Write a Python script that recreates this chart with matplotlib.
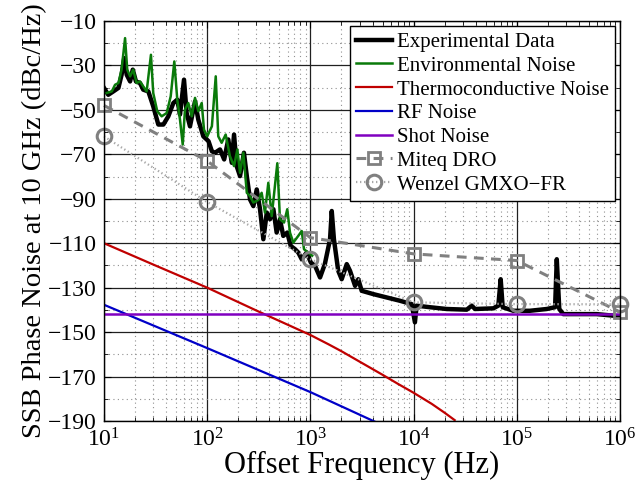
import matplotlib
matplotlib.use("Agg")
import matplotlib.pyplot as plt
from matplotlib.ticker import LogLocator, FixedLocator, NullFormatter, MultipleLocator

plt.rcParams['font.family'] = ['Liberation Serif', 'DejaVu Serif']
plt.rcParams['mathtext.fontset'] = 'custom'
plt.rcParams['mathtext.rm'] = 'Liberation Serif'
plt.rcParams['mathtext.it'] = 'Liberation Serif:italic'
plt.rcParams['mathtext.bf'] = 'Liberation Serif:bold'

# ---------------- data ----------------
exp_freq = [10.0, 11.0, 12.3, 13.8, 14.8, 15.7, 16.6, 17.9, 19.0, 20.4, 22.3, 24.0, 26.9, 30.0,
            33.6, 37.6, 42.0, 47.0, 51.3, 54.5, 59.6, 63.2, 68.1, 76.2, 82.0, 91.7, 103, 111,
            119, 133, 146, 160, 173, 182, 193, 208, 227, 242, 260, 280, 302, 325, 350, 378,
            406, 438, 471, 507, 546, 597, 644, 710, 763, 824, 921, 1010, 1110, 1240, 1380,
            1550, 1610, 1690, 1860, 2010, 2250, 2420, 2710, 2910, 3140, 4070, 5480, 7380,
            9590, 10300, 10700, 14400, 20900, 32700, 36600, 39400, 59200, 66200, 69800,
            73000, 92500, 134000, 195000, 235000, 244000, 258000, 282000, 410000, 594000,
            861000, 1000000]
exp_db = [-40.1, -43.2, -41.7, -40.1, -34.2, -26.7, -34.2, -37.2, -31.9, -37.2, -37.9, -40.9,
          -41.7, -48.4, -56.6, -56.6, -52.9, -46.9, -45.4, -52.1, -36.4, -51.4, -57.4, -46.2,
          -54.4, -61.9, -64.1, -68.6, -69.3, -67.8, -72.3, -63.3, -73.8, -61.1, -75.3, -79.8,
          -69.3, -79.8, -90.3, -93.3, -85.8, -94.7, -108.2, -96.2, -99.2, -94.7, -105.2,
          -99.2, -106.7, -105.2, -111.2, -112.7, -114.2, -117.2, -114.2, -118.7, -120.2,
          -125.4, -119.4, -108.2, -95.5, -108.2, -122.4, -126.2, -119.4, -122.4, -129.2,
          -126.2, -131.4, -132.9, -134.4, -135.9, -137.4, -145.6, -138.1, -138.8, -139.6,
          -139.9, -138.1, -139.6, -139.3, -138.1, -126.2, -138.8, -140.4, -140.4, -139.6,
          -138.8, -117.2, -139.6, -141.9, -141.9, -141.9, -142.6, -143.3]

env_freq = [10.6, 11.9, 12.8, 13.8, 14.8, 16.0, 16.8, 17.9, 19.2, 20.7, 22.3, 24.0, 25.9, 28.5,
            30.0, 32.8, 36.2, 40.5, 44.3, 48.0, 51.3, 54.5, 57.9, 60.9, 65.6, 70.8, 76.2, 82.0,
            88.5, 93.1, 100, 111, 121, 128, 138, 151, 166, 182, 196, 208, 224, 242, 260, 280,
            313, 337, 363, 391, 422, 478, 507, 555, 597, 634, 683, 763, 824, 867, 1040]
env_db = [-42.4, -41.7, -38.7, -37.9, -31.9, -17.7, -31.9, -34.9, -31.9, -37.9, -37.2, -39.4,
          -41.7, -25.2, -42.4, -50.6, -52.9, -51.4, -43.9, -28.2, -45.4, -54.4, -65.6, -49.9,
          -46.9, -52.9, -44.6, -50.6, -46.9, -58.9, -61.9, -57.4, -34.9, -61.9, -64.8, -61.1,
          -70.8, -75.3, -67.8, -78.3, -69.3, -87.3, -88.8, -91.7, -90.5, -87.3, -96.2, -82.8,
          -97.8, -74.0, -99.2, -100.7, -94.7, -105.2, -109.7, -106.7, -104.5, -112.7, -115.6]

thermo_freq = [10, 30, 100, 300, 1000, 1500, 2000, 3000, 5000, 7000, 10000, 15000, 20000, 25000]
thermo_db = [-110.0, -119.6, -130.0, -140.3, -151.3, -155.5, -158.6, -163.3, -169.2, -173.2,
             -177.3, -182.3, -186.3, -189.6]

rf_freq = [10, 100, 1000, 4300]
rf_db = [-137.7, -157.2, -177.0, -190.5]

shot_freq = [10, 1000000]
shot_db = [-141.7, -141.7]

miteq_freq = [10, 100, 1000, 10000, 100000, 1000000]
miteq_db = [-48.0, -73.0, -107.5, -114.8, -117.8, -141.0]

wenzel_freq = [10, 100, 1000, 10000, 100000, 1000000]
wenzel_db = [-61.9, -91.5, -117.2, -136.6, -137.4, -137.5]

labels = ['Experimental Data', 'Environmental Noise', 'Thermoconductive Noise',
          'RF Noise', 'Shot Noise', 'Miteq DRO', 'Wenzel GMXO\u2212FR']
y_ticks = [-190, -170, -150, -130, -110, -90, -70, -50, -30, -10]

# ---------------- figure ----------------
fig = plt.figure(figsize=(6.41, 4.96), dpi=100)
ax = fig.add_axes([104/641, 1-421/496, (620-104)/641, (421-21)/496])

ax.plot(exp_freq, exp_db, color='black', lw=3.2, label=labels[0], solid_joinstyle='round')
ax.plot(env_freq, env_db, color='#0a7a0a', lw=1.8, label=labels[1])
ax.plot(thermo_freq, thermo_db, color='#c00000', lw=1.6, label=labels[2])
ax.plot(rf_freq, rf_db, color='#0000c8', lw=1.6, label=labels[3])
ax.plot(shot_freq, shot_db, color='#8000c0', lw=1.8, label=labels[4])
ax.plot(miteq_freq, miteq_db, color='#808080', lw=2.2, ls=(0, (3.2, 2.4)), marker='s',
        ms=8, mfc='none', mec='#808080', mew=2.0, label=labels[5], clip_on=False)
ax.plot(wenzel_freq, wenzel_db, color='#a8a8a8', lw=1.6, ls=(0, (0.6, 1.2)), marker='o',
        ms=10.5, mfc='none', mec='#808080', mew=2.2, label=labels[6], clip_on=False)

ax.set_xscale('log')
ax.set_xlim(10, 1e6)
ax.set_ylim(-190, -10)
ax.yaxis.set_major_locator(FixedLocator(y_ticks))
ax.yaxis.set_minor_locator(MultipleLocator(10))
ax.xaxis.set_major_locator(LogLocator(base=10, numticks=10))
ax.xaxis.set_minor_locator(LogLocator(base=10, subs=range(2, 10), numticks=20))
ax.xaxis.set_minor_formatter(NullFormatter())

ax.grid(which='major', color='#202020', lw=0.9, ls='-')
ax.grid(which='minor', color='#909090', lw=0.8, ls=(0, (1, 3)))
ax.set_axisbelow(True)

ax.tick_params(which='both', direction='in', top=True, right=True, labelsize=17, pad=5)
ax.tick_params(which='major', length=5, width=0.8)
ax.tick_params(which='minor', length=3, width=0.6)
for s in ax.spines.values():
    s.set_linewidth(1.0)

ax.set_xlabel('Offset Frequency (Hz)', fontsize=22, labelpad=0)
ax.set_ylabel('SSB Phase Noise at 10 GHz (dBc/Hz)', fontsize=20.5, labelpad=1)

leg = ax.legend(loc='upper right', fontsize=15, frameon=True, fancybox=False,
                framealpha=1, edgecolor='black', borderpad=0.3, labelspacing=0.2,
                handlelength=1.75, handletextpad=0.2, borderaxespad=0.25)
leg.get_frame().set_linewidth(1.0)

fig.savefig('out.png', dpi=100)
